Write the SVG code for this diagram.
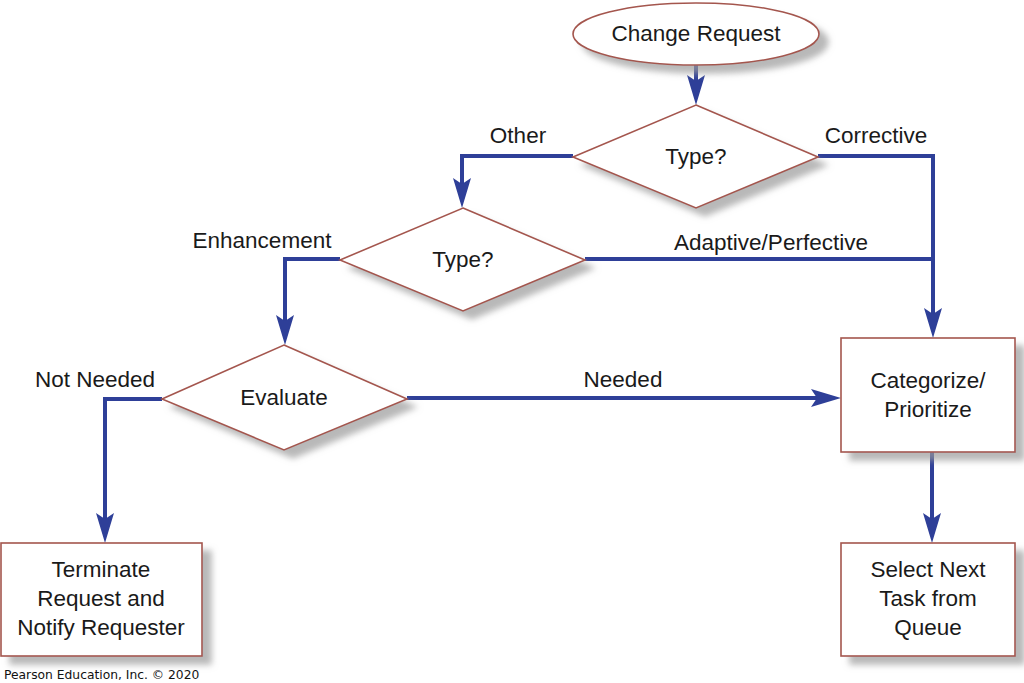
<svg xmlns="http://www.w3.org/2000/svg" width="1024" height="683" viewBox="0 0 1024 683">
<style>
.node{fill:#ffffff;stroke:#a4564e;stroke-width:1.6;filter:url(#sh)}
.lbl{font-family:"Liberation Sans",Arial,sans-serif;font-size:22.5px;fill:#1a1a1a;text-anchor:middle}
.conn{fill:none;stroke:#2e3f98;stroke-width:4;marker-end:url(#ah)}
.plain{fill:none;stroke:#2e3f98;stroke-width:4}
.foot{font-family:"DejaVu Sans",Verdana,sans-serif;font-size:12.3px;fill:#111}
</style>
<defs>
<filter id="sh" x="-10%" y="-10%" width="130%" height="140%">
<feDropShadow dx="9" dy="8" stdDeviation="3" flood-color="#9a9a9a" flood-opacity="0.7"/>
</filter>
<marker id="ah" markerUnits="userSpaceOnUse" viewBox="0 -10 30 20" refX="10" refY="0" markerWidth="30" markerHeight="20" orient="auto">
<path d="M0,-9 L30,0 L0,9 L6,0 Z" fill="#2e3f98"/>
</marker>
</defs>
<rect width="1024" height="683" fill="#ffffff"/>
<g id="connectors">
<line class="conn" x1="696" y1="65" x2="696" y2="85"/>
<polyline class="conn" points="573,156 462,156 462,188"/>
<polyline class="conn" points="818,156 933,156 933,318"/>
<polyline class="plain" points="585,259 933,259"/>
<polyline class="conn" points="340,259 285,259 285,325"/>
<line class="conn" x1="407" y1="398" x2="821" y2="398"/>
<polyline class="conn" points="162,399 105,399 105,523"/>
<line class="conn" x1="932" y1="452" x2="932" y2="523"/>
</g>
<g id="change-request">
<ellipse class="node" cx="696" cy="34" rx="123" ry="31"/>
<text class="lbl" x="696" y="41">Change Request</text>
</g>
<g id="type1">
<polygon class="node" points="696,105 818,157 696,208 573,157"/>
<text class="lbl" x="696" y="164">Type?</text>
</g>
<g id="type2">
<polygon class="node" points="463,208 585,260 463,311 340,260"/>
<text class="lbl" x="463" y="267">Type?</text>
</g>
<g id="evaluate">
<polygon class="node" points="284,345 407,399 284,450 162,399"/>
<text class="lbl" x="284" y="405">Evaluate</text>
</g>
<g id="categorize">
<rect class="node" x="841" y="338" width="174" height="114"/>
<text class="lbl" x="928" y="388">Categorize/</text>
<text class="lbl" x="928" y="417">Prioritize</text>
</g>
<g id="terminate">
<rect class="node" x="1" y="543" width="201" height="113"/>
<text class="lbl" x="101" y="577">Terminate</text>
<text class="lbl" x="101" y="606">Request and</text>
<text class="lbl" x="101" y="635">Notify Requester</text>
</g>
<g id="select-next">
<rect class="node" x="841" y="543" width="174" height="113"/>
<text class="lbl" x="928" y="577">Select Next</text>
<text class="lbl" x="928" y="606">Task from</text>
<text class="lbl" x="928" y="635">Queue</text>
</g>
<g id="labels">
<text class="lbl" x="518" y="143">Other</text>
<text class="lbl" x="876" y="143">Corrective</text>
<text class="lbl" x="262" y="248">Enhancement</text>
<text class="lbl" x="771" y="250">Adaptive/Perfective</text>
<text class="lbl" x="95" y="387">Not Needed</text>
<text class="lbl" x="623" y="387">Needed</text>
</g>
<text class="foot" x="4" y="679">Pearson Education, Inc. © 2020</text>
</svg>
